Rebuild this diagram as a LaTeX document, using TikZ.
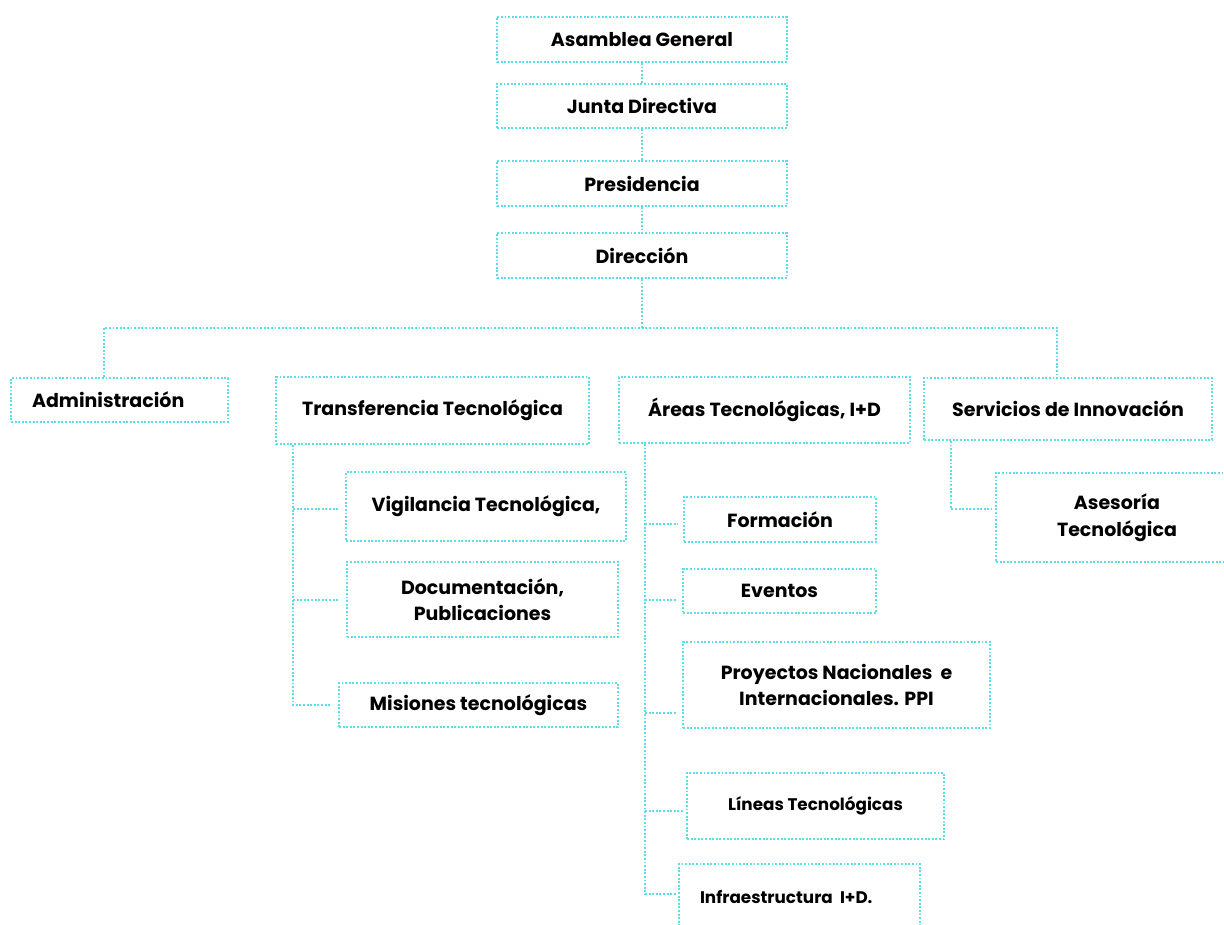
\documentclass[tikz,border=0pt]{standalone}
\usepackage{fontspec}
\setmainfont{Poppins}
\usetikzlibrary{calc}
\definecolor{cy}{RGB}{88,224,230}
\begin{document}
\begin{tikzpicture}[x=1pt,y=-1pt,
  dotline/.style={draw=cy, line width=1.9pt, dash pattern=on 1.9pt off 1.7pt},
  box/.style={dotline, inner sep=0pt, align=center, text=black,
    font=\bfseries\fontsize{19}{26.5}\selectfont},
  smallbox/.style={box, font=\bfseries\fontsize{16.8}{22}\selectfont},
  link/.style={dotline},
  branch/.style={dotline, shorten >=5pt}]
\useasboundingbox (0,0) rectangle (1224,925);
\clip (0,0) rectangle (1224,925);

% top chain
\node[box, minimum width=290pt, minimum height=45pt] (asam) at (642,39.5) {Asamblea General};
\node[box, minimum width=290pt, minimum height=44pt] (junta) at (642,106) {Junta Directiva};
\node[box, minimum width=290pt, minimum height=45pt] (pres) at (642,183.5) {Presidencia};
\node[box, minimum width=290pt, minimum height=45pt] (dir) at (642,255.5) {Dirección};

% second level
\node[box, text width=175pt, inner xsep=21pt, align=flush left, minimum height=44pt] (admin) at (119.5,400) {Administración};
\node[box, minimum width=313pt, minimum height=67pt] (trans) at (432.5,410.5) {Transferencia Tecnológica};
\node[box, minimum width=291pt, minimum height=66pt] (areas) at (764.5,410) {Áreas Tecnológicas, I+D};
\node[box, minimum width=288pt, minimum height=62pt] (serv) at (1068,409) {Servicios de Innovación};

% Transferencia children
\node[box, minimum width=280pt, minimum height=69pt] (vig) at (486,506.5) {Vigilancia Tecnológica,};
\node[box, minimum width=271pt, minimum height=75pt] (doc) at (482.5,599.5) {Documentación,\\Publicaciones};
\node[box, minimum width=279pt, minimum height=44pt] (mis) at (478.5,705) {Misiones tecnológicas};

% Areas children
\node[box, minimum width=192pt, minimum height=45pt] (form) at (780,519.5) {Formación};
\node[box, minimum width=193pt, minimum height=44pt] (even) at (779.5,591) {Eventos};
\node[box, minimum width=307pt, minimum height=86pt] (proy) at (836.5,685) {Proyectos Nacionales\ \ e\\Internacionales. PPI};
\node[smallbox, minimum width=257pt, minimum height=66pt] (lin) at (815.5,806) {Líneas Tecnológicas};
\node[smallbox, text width=199pt, inner xsep=21pt, align=flush left, minimum height=66pt] (inf) at (799.5,897) {Infraestructura\ \ I+D.};

% Servicios child
\node[box, minimum width=242pt, minimum height=89pt] (ases) at (1117,517.5) {Asesoría\\Tecnológica};

% connectors top chain
\draw[link] (asam) -- (junta);
\draw[link] (junta) -- (pres);
\draw[link] (pres) -- (dir);

% bus
\coordinate (busL) at (104,328);
\coordinate (busR) at (1057,328);
\draw[link] (dir.south) -- (dir.south |- busL);
\draw[link] (admin.north -| busL) -- (busL) -- (busR) -- (busR |- serv.north);

% Transferencia trunk
\coordinate (tt) at ([xshift=18pt]trans.south west);
\draw[link, shorten >=8pt] (tt) -- (tt |- mis.west) -- (mis.west);
\draw[link, shorten >=7pt] (tt |- 0,509) -- (vig.west |- 0,509);
\draw[link, shorten >=8pt] (tt |- 0,600) -- (doc.west |- 0,600);

% Areas trunk
\coordinate (ta) at ([xshift=27pt]areas.south west);
\draw[link, shorten >=2pt] (ta) -- (ta |- 0,894) -- (inf.west |- 0,894);
\draw[branch] (ta |- 0,524) -- (form.west |- 0,524);
\draw[branch] (ta |- 0,600) -- (even.west |- 0,600);
\draw[branch] (ta |- 0,713) -- (proy.west |- 0,713);
\draw[link, shorten >=2pt] (ta |- 0,811) -- (lin.west |- 0,811);

% Servicios trunk
\coordinate (ts) at ([xshift=28pt]serv.south west);
\draw[link, shorten >=4pt] (ts) -- (ts |- 0,509) -- (ases.west |- 0,509);
\end{tikzpicture}
\end{document}
